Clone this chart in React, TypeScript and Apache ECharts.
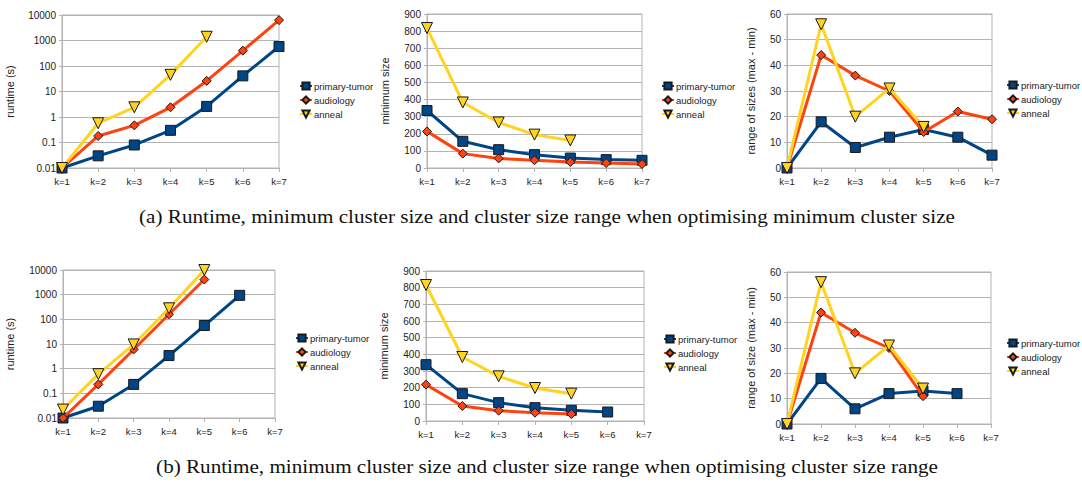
import React, { useEffect, useRef } from "react";
import * as echarts from "echarts";

const categories = ["k=1", "k=2", "k=3", "k=4", "k=5", "k=6", "k=7"];
const seriesNames = ["primary-tumor", "audiology", "anneal"];
const logTicks = [0.01, 0.1, 1, 10, 100, 1000, 10000];

// (a) optimising minimum cluster size
const runtimeAPrimary = [0.01, 0.03, 0.08, 0.3, 2.6, 41, 580];
const runtimeAAudiology = [0.01, 0.18, 0.47, 2.4, 26, 400, 6300];
const runtimeAAnneal = [0.01, 0.57, 2.4, 45, 1400];
const minSizeAPrimary = [336, 156, 107, 78, 58, 49, 45];
const minSizeAAudiology = [214, 84, 56, 45, 35, 29, 23];
const minSizeAAnneal = [818, 383, 266, 195, 161];
const rangeAPrimary = [0, 18, 8, 12, 15, 12, 5];
const rangeAAudiology = [0, 44, 36, 30, 14, 22, 19];
const rangeAAnneal = [0, 56, 20, 31, 16];

// (b) optimising cluster size range
const runtimeBPrimary = [0.01, 0.03, 0.23, 3.4, 56, 940];
const runtimeBAudiology = [0.01, 0.23, 6, 160, 4100];
const runtimeBAnneal = [0.022, 0.6, 9.6, 280, 10000];
const minSizeBPrimary = [338, 164, 110, 80, 64, 54];
const minSizeBAudiology = [218, 90, 62, 50, 42];
const minSizeBAnneal = [816, 384, 268, 198, 164];
const rangeBPrimary = [0, 18, 6, 12, 13, 12];
const rangeBAudiology = [0, 44, 36, 30, 11];
const rangeBAnneal = [0, 56, 20, 31, 14];

const captionA =
  "(a) Runtime, minimum cluster size and cluster size range when optimising minimum cluster size";
const captionB =
  "(b) Runtime, minimum cluster size and cluster size range when optimising cluster size range";

const COLORS = ["#004586", "#ff420e", "#ffd320"];
const SYMBOLS = ["rect", "diamond", "triangle"];
const SYMBOL_SIZES = [10, 9, 11];
const SYMBOL_ROT = [0, 0, 180];
const GRID_COLOR = "#b3b3b3";
const TEXT_COLOR = "#222";
const SANS = "'Liberation Sans', Arial, sans-serif";

type Panel = {
  grid: { left: number; top: number; width: number; height: number };
  yName: string;
  nameGap: number;
  log: boolean;
  max: number;
  interval?: number;
  data: number[][];
  legend: { left: number; top: number };
};

const panels: Panel[] = [
  {
    grid: { left: 62, top: 15, width: 217, height: 153 },
    yName: "runtime (s)", nameGap: 47, log: true, max: 10000,
    data: [runtimeAPrimary, runtimeAAudiology, runtimeAAnneal],
    legend: { left: 299, top: 81 },
  },
  {
    grid: { left: 427, top: 14, width: 215, height: 154 },
    yName: "minimum size", nameGap: 37, log: false, max: 900, interval: 100,
    data: [minSizeAPrimary, minSizeAAudiology, minSizeAAnneal],
    legend: { left: 661, top: 81 },
  },
  {
    grid: { left: 787, top: 14, width: 205, height: 154 },
    yName: "range of sizes (max - min)", nameGap: 31, log: false, max: 60, interval: 10,
    data: [rangeAPrimary, rangeAAudiology, rangeAAnneal],
    legend: { left: 1006, top: 80 },
  },
  {
    grid: { left: 63, top: 270, width: 212, height: 148 },
    yName: "runtime (s)", nameGap: 48, log: true, max: 10000,
    data: [runtimeBPrimary, runtimeBAudiology, runtimeBAnneal],
    legend: { left: 295, top: 333 },
  },
  {
    grid: { left: 426, top: 271, width: 218, height: 150 },
    yName: "minimum size", nameGap: 37, log: false, max: 900, interval: 100,
    data: [minSizeBPrimary, minSizeBAudiology, minSizeBAnneal],
    legend: { left: 663, top: 334 },
  },
  {
    grid: { left: 787, top: 272, width: 204, height: 152 },
    yName: "range of size (max - min)", nameGap: 31, log: false, max: 60, interval: 10,
    data: [rangeBPrimary, rangeBAudiology, rangeBAnneal],
    legend: { left: 1006, top: 338 },
  },
];

function fmtLog(v: number) {
  return String(Number(v.toPrecision(3)));
}

function buildOption() {
  const grid = panels.map((p) => ({
    ...p.grid,
    show: true,
    borderColor: GRID_COLOR,
    borderWidth: 1,
    backgroundColor: "transparent",
    containLabel: false,
  }));
  const xAxis = panels.map((_, i) => ({
    type: "category",
    gridIndex: i,
    data: categories,
    boundaryGap: false,
    axisLine: { lineStyle: { color: GRID_COLOR } },
    axisTick: { show: true, length: 4, lineStyle: { color: GRID_COLOR } },
    axisLabel: { color: TEXT_COLOR, fontSize: 9.5, fontFamily: SANS, margin: 8, interval: 0 },
    splitLine: { show: false },
  }));
  const yAxis = panels.map((p, i) => {
    const base: any = {
      gridIndex: i,
      name: p.yName,
      nameLocation: "middle",
      nameRotate: 90,
      nameGap: p.nameGap,
      nameTextStyle: { color: TEXT_COLOR, fontSize: 11, fontFamily: SANS },
      axisLine: { show: true, lineStyle: { color: GRID_COLOR } },
      axisTick: { show: true, length: 3, lineStyle: { color: GRID_COLOR } },
      axisLabel: { color: TEXT_COLOR, fontSize: 10, fontFamily: SANS, margin: 6 },
      splitLine: { show: true, lineStyle: { color: GRID_COLOR, width: 1 } },
    };
    if (p.log) {
      base.type = "log";
      base.logBase = 10;
      base.min = logTicks[0];
      base.max = logTicks[logTicks.length - 1];
      base.axisLabel.formatter = (v: number) => fmtLog(v);
    } else {
      base.type = "value";
      base.min = 0;
      base.max = p.max;
      base.interval = p.interval;
    }
    return base;
  });
  const series: any[] = [];
  panels.forEach((p, i) => {
    p.data.forEach((d, s) => {
      series.push({
        type: "line",
        name: seriesNames[s],
        xAxisIndex: i,
        yAxisIndex: i,
        data: d,
        symbol: SYMBOLS[s],
        symbolSize: SYMBOL_SIZES[s],
        symbolRotate: SYMBOL_ROT[s],
        showAllSymbol: true,
        lineStyle: { color: COLORS[s], width: 3 },
        itemStyle: { color: COLORS[s], borderColor: "#1a1a1a", borderWidth: 1 },
        emphasis: { disabled: true },
        z: 2 + s,
      });
    });
  });
  const legend = panels.map((p) => ({
    left: p.legend.left,
    top: p.legend.top,
    orient: "vertical",
    padding: 0,
    itemGap: 4,
    itemWidth: 12,
    itemHeight: 9,
    selectedMode: false,
    data: seriesNames,
    textStyle: { color: TEXT_COLOR, fontSize: 9.5, fontFamily: SANS, padding: [0, 0, 0, -3] },
  }));
  const graphic = [
    {
      type: "text",
      x: 547,
      y: 217,
      scaleX: 1.175,
      style: {
        text: captionA,
        fontFamily: "'Liberation Serif', 'Times New Roman', serif",
        fontSize: 18,
        fill: "#111",
        align: "center",
        verticalAlign: "middle",
      },
    },
    {
      type: "text",
      x: 547,
      y: 467,
      scaleX: 1.175,
      style: {
        text: captionB,
        fontFamily: "'Liberation Serif', 'Times New Roman', serif",
        fontSize: 18,
        fill: "#111",
        align: "center",
        verticalAlign: "middle",
      },
    },
  ];
  return {
    animation: false,
    backgroundColor: "#ffffff",
    grid,
    xAxis,
    yAxis,
    series,
    legend,
    graphic,
  };
}

export default function App() {
  const ref = useRef<HTMLDivElement>(null);
  useEffect(() => {
    if (!ref.current) return;
    const chart = echarts.init(ref.current, undefined, { renderer: "svg" });
    chart.setOption(buildOption() as any);
    return () => chart.dispose();
  }, []);
  return (
    <div
      ref={ref}
      style={{ position: "absolute", left: 0, top: 0, width: 1082, height: 483, background: "#fff" }}
    />
  );
}
